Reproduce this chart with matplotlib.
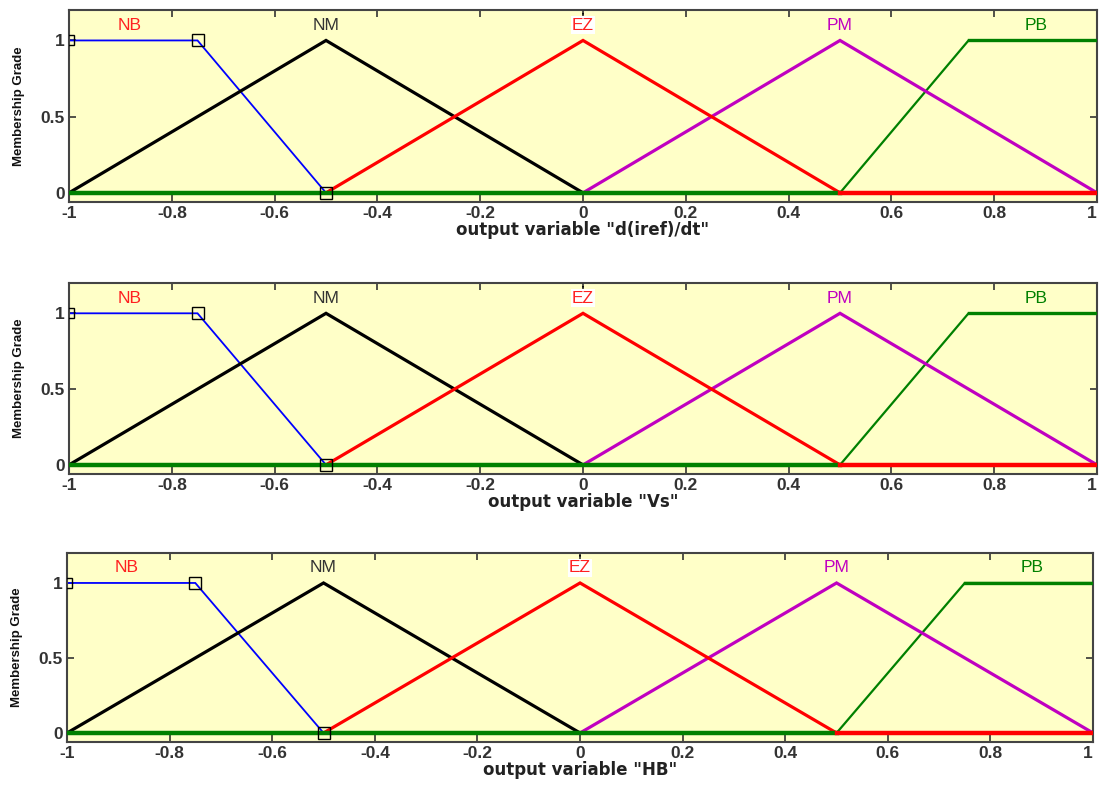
import matplotlib.pyplot as plt

# membership functions (same for the three output variables)
mf_names = ["NB", "NM", "EZ", "PM", "PB"]
mf_x = {
    "PB": [-1.0, 0.5, 0.75, 1.0],
    "NB": [-1.0, -0.75, -0.5],
    "NM": [-1.0, -0.5, 0.0],
    "PM": [0.0, 0.5, 1.0],
    "EZ": [-0.5, 0.0, 0.5, 1.0],
}
mf_y = {
    "PB": [0, 0, 1, 1],
    "NB": [1, 1, 0],
    "NM": [0, 1, 0],
    "PM": [0, 1, 0],
    "EZ": [0, 1, 0, 0],
}
label_x = {"NB": -0.883, "NM": -0.5, "EZ": 0.0, "PM": 0.5, "PB": 0.882}
label_y = 1.1
draw_order = ["PB", "NB", "NM", "PM", "EZ"]

line_colors = {"NB": "#0000ff", "NM": "black", "EZ": "#ff0000", "PM": "#c000c0", "PB": "#008000"}
text_colors = {"NB": "#ff2020", "NM": "#333333", "EZ": "#ff2020", "PM": "#c000c0", "PB": "#008000"}
line_widths = {"NB": 1.3, "NM": 2.3, "EZ": 2.3, "PM": 2.3, "PB": 1.6}

variables = ['"d(iref)/dt"', '"Vs"', '"HB"']
x_ticks = [-1, -0.8, -0.6, -0.4, -0.2, 0, 0.2, 0.4, 0.6, 0.8, 1]
x_tick_labels = ["-1", "-0.8", "-0.6", "-0.4", "-0.2", "0", "0.2", "0.4", "0.6", "0.8", "1"]
y_ticks = [0, 0.5, 1]
y_tick_labels = ["0", "0.5", "1"]

# axes boxes in figure fractions (left, bottom, width, height)
boxes = [
    (0.0628, 0.7427, 0.9354, 0.2446),
    (0.0628, 0.3962, 0.9354, 0.2433),
    (0.0610, 0.0548, 0.9336, 0.2408),
]

plt.rcParams["font.family"] = ["Liberation Sans", "DejaVu Sans"]

fig = plt.figure(figsize=(10.99, 7.85), dpi=100)

for box, var in zip(boxes, variables):
    ax = fig.add_axes(box)
    ax.set_facecolor("#ffffc8")
    for name in draw_order:
        ax.plot(mf_x[name], mf_y[name], color=line_colors[name],
                lw=line_widths[name], zorder=2, solid_joinstyle="miter")
    # zero baseline of the membership plot
    ax.plot([mf_x["PB"][0], mf_x["PB"][1]], [mf_y["PB"][0], mf_y["PB"][1]],
            color=line_colors["PB"], lw=3.2, zorder=3)
    ax.plot(mf_x["EZ"][2:], mf_y["EZ"][2:], color=line_colors["EZ"], lw=3.2, zorder=3)
    ax.plot(mf_x["PB"][2:], mf_y["PB"][2:], color=line_colors["PB"], lw=2.4, zorder=3)
    # selected MF vertex handles
    ax.plot(mf_x["NB"][:1], mf_y["NB"][:1], ls="none", marker="s", ms=7,
            mfc="none", mec="black", mew=1.0, zorder=5)
    ax.plot(mf_x["NB"][1:], mf_y["NB"][1:], ls="none", marker="s", ms=8,
            mfc="none", mec="black", mew=1.0, zorder=5)

    for name in mf_names:
        kw = {}
        if name == "EZ":
            kw["bbox"] = dict(facecolor="white", edgecolor="none", pad=1.0)
        ax.text(label_x[name], label_y, name, color=text_colors[name],
                ha="center", va="center", fontsize=12.5, zorder=7, **kw)
    ax.axvline(label_x["EZ"], ymin=0.955, ymax=1.0, color="black", ls=":", lw=1.2, zorder=5)

    ax.set_xlim(-1, 1)
    ax.set_ylim(-0.06, 1.2)
    ax.set_xticks(x_ticks)
    ax.set_xticklabels(x_tick_labels)
    ax.set_yticks(y_ticks)
    ax.set_yticklabels(y_tick_labels)
    ax.tick_params(direction="in", top=True, right=True, length=5, width=1.2,
                   labelsize=12.5, pad=3, colors="#333333")
    for lab in ax.get_xticklabels() + ax.get_yticklabels():
        lab.set_fontweight("bold")
    # last label sits at the figure edge; keep it inside
    ax.get_xticklabels()[-1].set_horizontalalignment("right")
    for sp in ax.spines.values():
        sp.set_color("#444444")
        sp.set_linewidth(1.5)
    ax.set_xlabel("output variable " + var, fontsize=12, fontweight="bold",
                  family=["DejaVu Sans"], labelpad=0, color="#222222")
    ax.set_ylabel("Membership Grade", fontsize=9.5, fontweight="bold",
                  labelpad=11, color="#111111")

fig.savefig("out.png", dpi=100)
